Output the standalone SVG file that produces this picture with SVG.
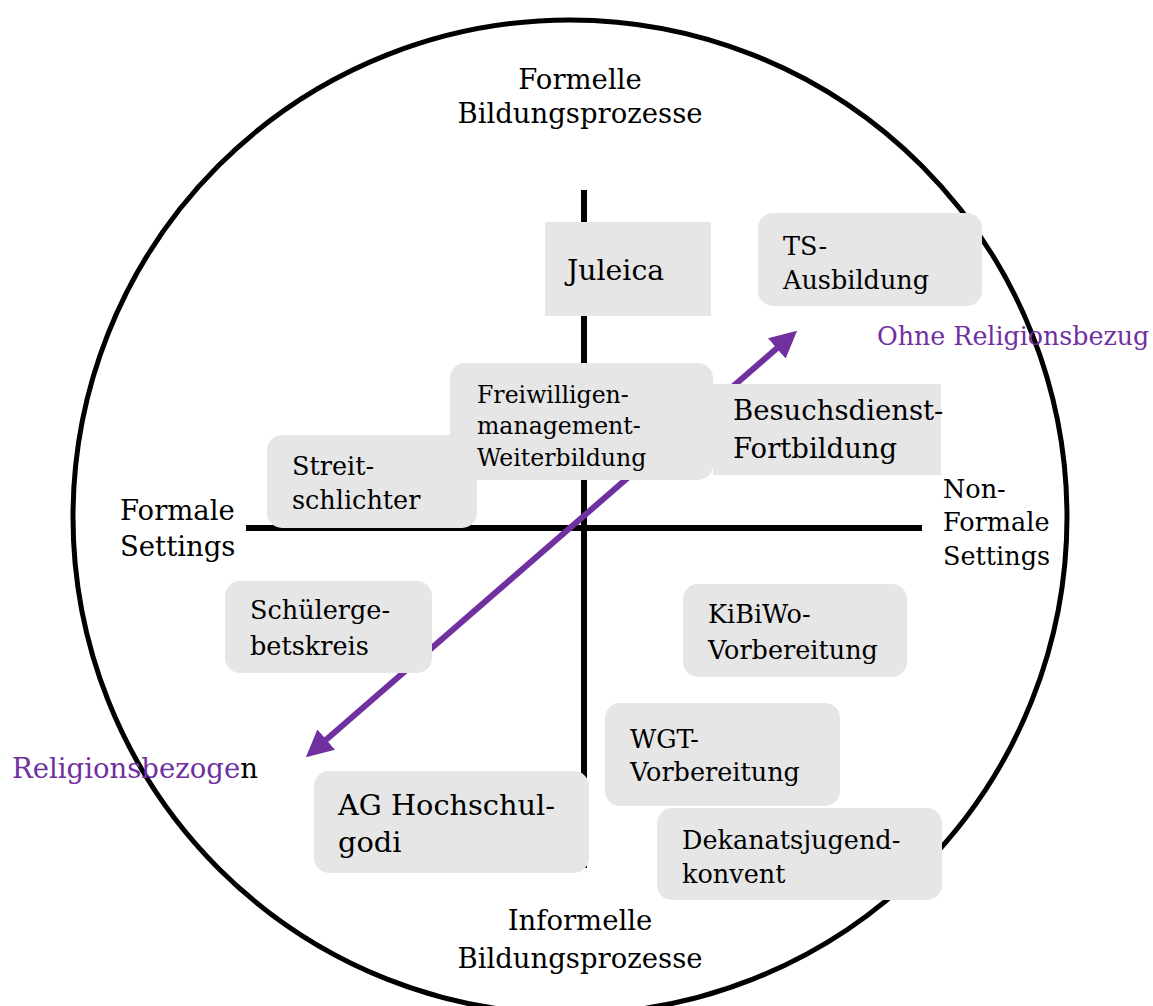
<svg xmlns="http://www.w3.org/2000/svg" width="1153" height="1006" viewBox="0 0 1153 1006">
<style>
text{font-family:"DejaVu Serif","Liberation Serif",serif;fill:#000}
.box{fill:#e6e6e6}
.big{font-size:27.5px}
.mid{font-size:25.5px}
.sm{font-size:23.6px}
.purple{fill:#7030a0}
.c{text-anchor:middle}
</style>
<defs>
<marker id="ah" viewBox="0 0 10 10" refX="7" refY="5" markerWidth="4.5" markerHeight="4.5" orient="auto-start-reverse" markerUnits="strokeWidth">
<path d="M0,0 L10,5 L0,10 z" fill="#7030a0"/>
</marker>
</defs>
<rect width="1153" height="1006" fill="#fff"/>
<circle cx="570" cy="517" r="497" fill="none" stroke="#000" stroke-width="5"/>
<g id="connectors">
<line x1="584" y1="190" x2="584" y2="868" stroke="#000" stroke-width="6"/>
<line x1="246" y1="528" x2="922" y2="528" stroke="#000" stroke-width="6"/>
<line x1="312" y1="752" x2="791" y2="336" stroke="#7030a0" stroke-width="6" marker-start="url(#ah)" marker-end="url(#ah)"/>
</g>
<g id="labels">
<text class="big c" x="580" y="89">Formelle</text>
<text class="big c" x="580" y="123">Bildungsprozesse</text>
<text class="big" x="120" y="520">Formale</text>
<text class="big" x="120" y="556">Settings</text>
<text class="mid" x="943" y="498">Non-</text>
<text class="mid" x="943" y="531">Formale</text>
<text class="mid" x="943" y="565">Settings</text>
<text class="big c" x="580" y="930">Informelle</text>
<text class="big c" x="580" y="968">Bildungsprozesse</text>
<text class="purple" x="877" y="345" font-size="25.3">Ohne Religionsbezug</text>
<text x="12" y="778" font-size="27.5"><tspan class="purple">Religionsbezoge</tspan>n</text>
</g>
<g id="n-juleica">
<rect class="box" x="545" y="222" width="166" height="94"/>
<text x="567" y="280" font-size="28.3">Juleica</text>
</g>
<g id="n-ts">
<rect class="box" x="758" y="213" width="224" height="93" rx="15"/>
<text class="mid" x="783" y="255" font-size="26">TS-</text>
<text class="mid" x="783" y="289" font-size="26">Ausbildung</text>
</g>
<g id="n-streit">
<rect class="box" x="267" y="435" width="210" height="93" rx="15"/>
<text class="mid" x="292" y="475">Streit-</text>
<text class="mid" x="292" y="509">schlichter</text>
</g>
<g id="n-freiwilligen">
<rect class="box" x="450" y="363" width="263" height="117" rx="15"/>
<text class="sm" x="477" y="403">Freiwilligen-</text>
<text class="sm" x="477" y="434">management-</text>
<text class="sm" x="477" y="466">Weiterbildung</text>
</g>
<g id="n-besuchsdienst">
<rect class="box" x="713" y="384" width="228" height="91"/>
<text class="big" x="733" y="420" font-size="27.7">Besuchsdienst-</text>
<text class="big" x="733" y="458" font-size="27.7">Fortbildung</text>
</g>
<g id="n-schueler">
<rect class="box" x="225" y="581" width="207" height="92" rx="15"/>
<text class="mid" x="250" y="619">Schülerge-</text>
<text class="mid" x="250" y="655">betskreis</text>
</g>
<g id="n-kibiwo">
<rect class="box" x="683" y="584" width="224" height="93" rx="15"/>
<text class="mid" x="708" y="623" font-size="26">KiBiWo-</text>
<text class="mid" x="708" y="659" font-size="26">Vorbereitung</text>
</g>
<g id="n-wgt">
<rect class="box" x="605" y="703" width="235" height="103" rx="15"/>
<text class="mid" x="630" y="748" font-size="26">WGT-</text>
<text class="mid" x="630" y="781" font-size="26">Vorbereitung</text>
</g>
<g id="n-dekanat">
<rect class="box" x="657" y="808" width="285" height="92" rx="15"/>
<text class="mid" x="682" y="849" font-size="26">Dekanatsjugend-</text>
<text class="mid" x="682" y="883" font-size="26">konvent</text>
</g>
<g id="n-ag">
<rect class="box" x="314" y="771" width="275" height="102" rx="15"/>
<text x="338" y="815" font-size="28.8">AG Hochschul-</text>
<text x="338" y="852" font-size="28.8">godi</text>
</g>
</svg>
